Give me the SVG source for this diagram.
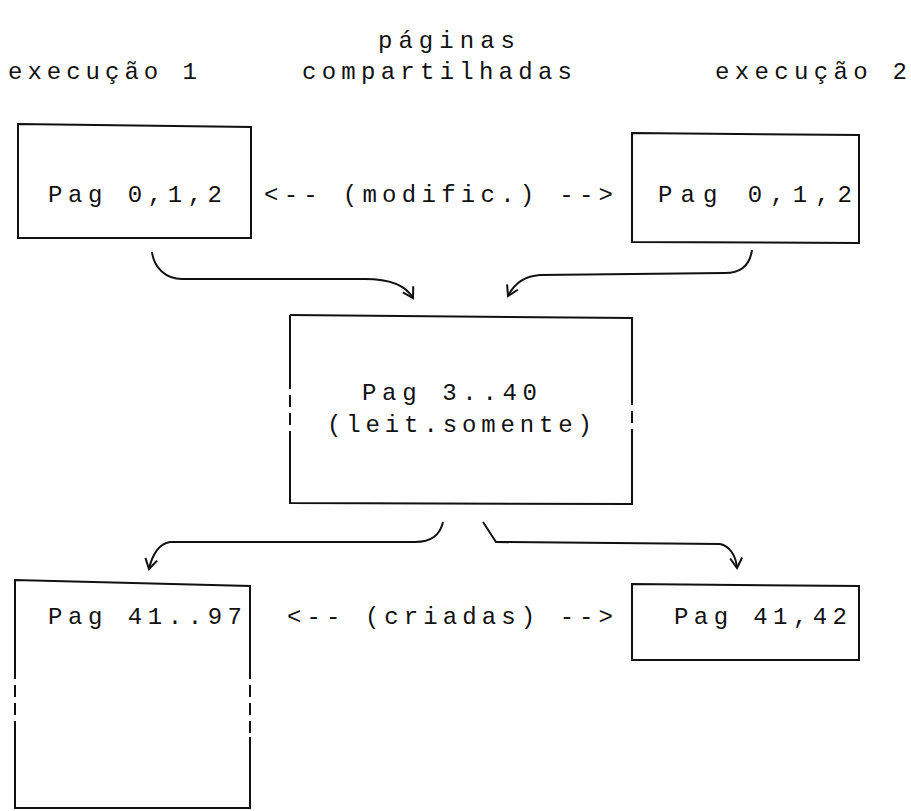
<svg xmlns="http://www.w3.org/2000/svg" width="911" height="811" viewBox="0 0 911 811">
<style>
.t{font-family:"Liberation Mono","DejaVu Sans Mono",monospace;font-size:24px;fill:#111;}
.b{fill:none;stroke:#111;stroke-width:2;}
.d{fill:none;stroke:#111;stroke-width:2;stroke-dasharray:12 6;}
.c{fill:none;stroke:#111;stroke-width:2;}
</style>
<defs>
<marker id="ah" markerUnits="userSpaceOnUse" markerWidth="16" markerHeight="16" refX="12" refY="7" orient="auto">
<path d="M2,1 L12,7 L2,13" fill="none" stroke="#111" stroke-width="2"/>
</marker>
</defs>
<g id="headers">
<text class="t" x="378" y="48" textLength="137" lengthAdjust="spacing">páginas</text>
<text class="t" x="8" y="79" textLength="189" lengthAdjust="spacing">execução 1</text>
<text class="t" x="302" y="79" textLength="270" lengthAdjust="spacing">compartilhadas</text>
<text class="t" x="715" y="79" textLength="192" lengthAdjust="spacing">execução 2</text>
</g>
<g id="n1">
<path class="b" d="M18,124 L251,127 L251,238 L18,238 Z"/>
<text class="t" x="48" y="202" textLength="174" lengthAdjust="spacing">Pag 0,1,2</text>
</g>
<g id="lbl-modific">
<text class="t" x="264" y="202" textLength="349" lengthAdjust="spacing">&lt;-- (modific.) --&gt;</text>
</g>
<g id="n2">
<path class="b" d="M632,133 L859,135 L859,243 L632,242 Z"/>
<text class="t" x="658" y="202" textLength="194" lengthAdjust="spacing">Pag 0,1,2</text>
</g>
<g id="n3">
<path class="b" d="M290,315 L632,318 L632,393"/>
<path class="d" d="M632,393 L632,440"/>
<path class="b" d="M632,440 L632,504 L290,503 L290,443"/>
<path class="d" d="M290,443 L290,380"/>
<path class="b" d="M290,380 L290,315"/>
<text class="t" x="362" y="400" textLength="175" lengthAdjust="spacing">Pag 3..40</text>
<text class="t" x="327" y="432" textLength="265" lengthAdjust="spacing">(leit.somente)</text>
</g>
<g id="n4">
<path class="b" d="M15,668 L15,580 L250,586 L250,667"/>
<path class="d" d="M250,667 L250,737"/>
<path class="b" d="M250,737 L250,808 L15,808 L15,733"/>
<path class="d" d="M15,733 L15,668"/>
<text class="t" x="48" y="624" textLength="194" lengthAdjust="spacing">Pag 41..97</text>
</g>
<g id="lbl-criadas">
<text class="t" x="287" y="624" textLength="326" lengthAdjust="spacing">&lt;-- (criadas) --&gt;</text>
</g>
<g id="n5">
<path class="b" d="M632,584 L859,586 L859,660 L632,660 Z"/>
<text class="t" x="674" y="624" textLength="173" lengthAdjust="spacing">Pag 41,42</text>
</g>
<g id="connectors">
<path class="c" marker-end="url(#ah)" d="M152,252 C154,268 166,279 182,279 L365,279 C388,279 405,284 413,298"/>
<path class="c" marker-end="url(#ah)" d="M752,250 C750,264 742,273 725,273 L540,275 C525,276 514,284 508,296"/>
<path class="c" marker-end="url(#ah)" d="M443,522 C440,535 432,542 415,542 L170,542 C158,544 152,556 149,569"/>
<path class="c" marker-end="url(#ah)" d="M483,522 L496,542 L720,544 C730,546 736,556 737,568"/>
</g>
</svg>
